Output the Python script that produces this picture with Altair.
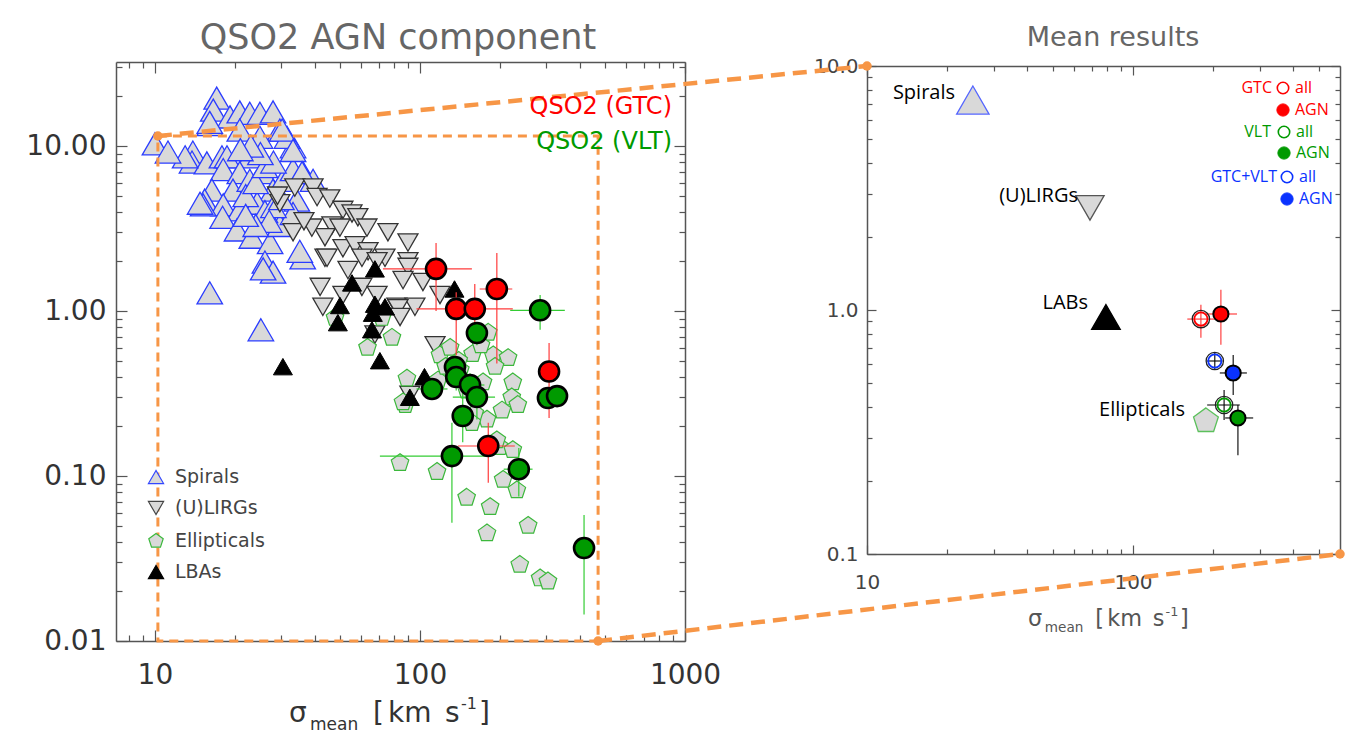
import math
import altair as alt
import pandas as pd

# ---------------- data ----------------
# Left panel: individual objects
SPI_X = [10.0, 17.1, 16.6, 16.1, 13.9, 13.8, 15.7, 17.9, 19.2, 20.9, 22.8, 24.9, 27.9, 29.6, 33.2, 31.5,
         20.9, 18.7, 18.1, 16.4, 15.4, 24.9, 22.8, 20.9, 19.7, 22.8, 25.6, 27.9, 30.4, 33.2, 36.2, 39.5,
         34.3, 18.1, 20.9, 24.3, 15.2, 18.0, 20.4, 23.2, 27.2, 29.6, 33.2, 26.0, 27.9, 25.6, 16.1, 25.1,
         36.1, 22.0, 24.0, 26.0, 28.0, 25.0, 23.0, 21.0, 26.0, 28.0, 30.0, 27.0, 24.0, 22.0, 30.2, 35.2,
         14.8, 13.0, 16.1, 11.2, 33.2, 35.9]
SPI_Y = [10.3, 19.5, 16.5, 13.5, 9.2, 8.0, 7.9, 8.6, 15.0, 16.1, 15.8, 15.8, 16.1, 12.5, 9.9, 11.3,
         12.5, 8.6, 7.2, 5.4, 4.7, 11.3, 8.6, 6.9, 5.4, 6.2, 6.9, 5.4, 6.2, 7.2, 6.9, 6.2,
         4.7, 4.4, 4.1, 4.5, 4.4, 3.7, 3.1, 2.8, 2.6, 3.3, 3.9, 1.98, 1.72, 1.80, 1.29, 0.77,
         2.1, 5.0, 6.0, 7.5, 8.0, 9.0, 10.0, 9.5, 4.0, 4.3, 4.8, 3.5, 3.3, 3.8, 12.5, 2.3,
         4.5, 8.6, 13.9, 9.2, 9.4, 6.9]

LIRG_X = [33.7, 39.5, 40.9, 45.7, 51.2, 55.4, 58.3, 63.1, 75.7, 29.6, 46.5, 49.9, 43.8, 39.1, 33.2,
          51.2, 56.9, 63.7, 60.4, 73.8, 90.1, 90.1, 90.1, 43.8, 53.5, 68.9, 86.3, 102.6, 42.0, 51.2,
          60.4, 68.9, 81.8, 95.7, 119, 43.0, 82.6, 84.1, 114, 91.6, 67.6, 44.6, 36.5, 29.0]
LIRG_Y = [5.6, 5.6, 4.9, 4.8, 4.1, 3.9, 3.7, 3.2, 3.0, 4.5, 3.3, 3.2, 2.8, 3.2, 3.0,
          2.4, 2.5, 2.3, 2.1, 2.1, 2.6, 2.0, 1.85, 2.1, 1.77, 2.0, 1.54, 1.5, 1.4, 1.25,
          1.4, 1.25, 1.06, 1.06, 1.25, 1.06, 1.04, 0.92, 0.62, 0.31, 0.72, 2.1, 3.5, 5.0]

ELL_X = [47.8, 63.4, 78.4, 71.9, 119, 130, 158, 181, 189, 215, 192, 224, 89.3, 88, 222, 204, 179,
         161, 173, 142, 117, 150, 86.3, 84.1, 116, 200, 224, 195, 150, 184, 179, 256, 206, 232,
         238, 284, 304, 234, 157, 140, 125, 170]
ELL_Y = [0.91, 0.60, 0.69, 0.91, 0.54, 0.60, 0.55, 0.74, 0.54, 0.52, 0.46, 0.37, 0.39, 0.27, 0.30,
         0.25, 0.22, 0.24, 0.37, 0.44, 0.38, 0.33, 0.28, 0.12, 0.106, 0.15, 0.144, 0.165, 0.074,
         0.065, 0.045, 0.05, 0.095, 0.082, 0.029, 0.024, 0.023, 0.27, 0.21, 0.50, 0.46, 0.62]

LBA_X = [67.6, 55.4, 135, 49.9, 67.6, 73.8, 66.4, 49.0, 65.9, 70.6, 104, 91.6, 30.4]
LBA_Y = [1.8, 1.48, 1.36, 1.08, 1.1, 1.06, 0.97, 0.85, 0.77, 0.5, 0.4, 0.3, 0.46]

GTC_X = [115, 195, 137, 161, 307, 181]
GTC_Y = [1.80, 1.36, 1.03, 1.03, 0.43, 0.152]
GTC_XLO = [72.5, 168, 97, 145, 292, 139]
GTC_XHI = [157, 223, 155, 224, 322, 228]
GTC_YLO = [1.0, 0.48, 0.54, 0.77, 0.225, 0.091]
GTC_YHI = [2.58, 2.25, 1.30, 1.46, 0.64, 0.21]

VLT_X = [284, 164, 135.5, 137, 154.5, 164, 111, 304, 329, 145, 132, 236, 416]
VLT_Y = [1.01, 0.736, 0.458, 0.398, 0.356, 0.301, 0.337, 0.297, 0.305, 0.231, 0.132, 0.110, 0.0366]
VLT_XLO = [219, 150, 125, 125, 140, 133, 97, 290, 315, 137, 70.6, 207, 400]
VLT_XHI = [352, 179, 150, 150, 175, 192, 127, 318, 345, 153, 184, 266, 430]
VLT_YLO = [0.77, 0.62, 0.38, 0.33, 0.30, 0.22, 0.29, 0.26, 0.27, 0.16, 0.052, 0.075, 0.0145]
VLT_YHI = [1.25, 0.85, 0.55, 0.47, 0.42, 0.35, 0.38, 0.34, 0.35, 0.32, 0.21, 0.148, 0.058]

# Right panel: mean results
MEAN_NAME = ["Spirals", "(U)LIRGs", "LABs", "Ellipticals"]
MEAN_X = [25.0, 68.9, 79.1, 188]
MEAN_Y = [7.25, 2.62, 0.936, 0.351]

QM_NAME = ["GTC all", "GTC AGN", "GTC+VLT all", "GTC+VLT AGN", "VLT all", "VLT AGN"]
QM_X = [180, 214, 203, 238, 220, 248]
QM_Y = [0.918, 0.963, 0.618, 0.552, 0.408, 0.361]
QM_XLO = [160, 188, 190, 212, 190, 222]
QM_XHI = [203, 246, 217, 268, 252, 283]
QM_YLO = [0.77, 0.72, 0.573, 0.448, 0.354, 0.254]
QM_YHI = [1.05, 1.21, 0.666, 0.654, 0.47, 0.408]

# zoom box in the left panel and the corners it connects to in the right panel
ZOOM_X = [10.26, 470]
ZOOM_Y = [0.01, 11.5]
CONN_FROM = [(10.26, 11.5), (470, 0.01)]   # left-panel data coordinates
CONN_TO = [(10, 10), (600, 0.1)]           # right-panel data coordinates

# tick values
L_XMAJ = [10, 100, 1000]
L_XMIN = [8, 9] + [k * 10 for k in range(2, 10)] + [k * 100 for k in range(2, 10)]
L_YMAJ = [0.01, 0.1, 1, 10]
L_YMIN = [k / 100 for k in range(2, 10)] + [k / 10 for k in range(2, 10)] + list(range(2, 10)) + [20, 30]
R_XMAJ = [10, 100]
R_XMIN = [k * 10 for k in range(2, 10)] + [200, 300, 400, 500]
R_YMAJ = [0.1, 1, 10]
R_YMIN = [k / 10 for k in range(2, 10)] + list(range(2, 10))

# ---------------- layout ----------------
W, H = 1367, 744
PANEL = {
    "L": ([7.13, 1000], [116, 685], [0.01, 32.3], [641, 62]),
    "R": ([10, 600], [867, 1340], [0.1, 10], [554, 66]),
}
ORANGE = "#F79646"
GRAY_FILL = "#d9d9d9"
RED = "#ff0000"
GREEN = "#009a00"
BLUE = "#0a32ff"
IDL = "DejaVu Sans"
SANS = "Open Sans"
PENTAGON = "M0,-1L0.951,-0.309L0.588,0.809L-0.588,0.809L-0.951,-0.309Z"
ONE = pd.DataFrame({"x": [10.0], "y": [1.0]})


def X(p, f, axis=None):
    d, r = PANEL[p][0], PANEL[p][1]
    return alt.X(f, type="quantitative", axis=axis,
                 scale=alt.Scale(type="log", domain=d, range=r, nice=False))


def Y(p, f, axis=None):
    d, r = PANEL[p][2], PANEL[p][3]
    return alt.Y(f, type="quantitative", axis=axis,
                 scale=alt.Scale(type="log", domain=d, range=r, nice=False))


def ax(orient, values, tick, offset, domain=True, labels=False, fmt=None, size=20, pad=8, color="#333"):
    kw = dict(orient=orient, values=values, offset=offset, grid=False, title=None,
              domain=domain, domainColor="#555", domainWidth=1.5, labels=labels)
    if tick > 0:
        kw.update(ticks=True, tickSize=tick, tickColor="#555", tickWidth=1.2)
    else:
        kw.update(ticks=False, tickSize=0)
    if labels:
        kw.update(format=fmt, labelFontSize=size, labelColor=color, labelFont=IDL,
                  labelPadding=pad, labelFlush=False, labelOverlap=False, labelBound=False)
    return alt.Axis(**kw)


def axis_layer(p, xa, ya):
    return alt.Chart(ONE).mark_point(opacity=0, size=1).encode(x=X(p, "x", xa), y=Y(p, "y", ya))


def to_px(v, d, r):
    t = (math.log10(v) - math.log10(d[0])) / (math.log10(d[1]) - math.log10(d[0]))
    return r[0] + t * (r[1] - r[0])


def from_px(px, d, r):
    t = (px - r[0]) / (r[1] - r[0])
    return 10 ** (math.log10(d[0]) + t * (math.log10(d[1]) - math.log10(d[0])))


def text(t, x, y, size, color, font=IDL, align="left", baseline="middle", weight="normal"):
    return alt.Chart(ONE).mark_text(text=t, fontSize=size, color=color, font=font, align=align,
                                    baseline=baseline, fontWeight=weight).encode(
        x=alt.value(x), y=alt.value(y))


def sym(x, y, shape, size, fill, stroke, sw=1.0, filled=True):
    kw = dict(shape=shape, size=size, strokeWidth=sw, opacity=1)
    if filled:
        kw.update(filled=True, fill=fill, stroke=stroke, fillOpacity=1)
    else:
        kw.update(filled=False, stroke=stroke, fillOpacity=0)
    return alt.Chart(ONE).mark_point(**kw).encode(x=alt.value(x), y=alt.value(y))


def xtitle(x0, base, k, color):
    parts = [("σ", 0, 0, 28), ("mean", 21, 8, 17), ("[", 84, 0, 28), ("km", 99, 0, 28),
             ("s", 156, 0, 28), ("-1", 172, -13, 16), ("]", 190, 0, 28)]
    return [text(t, x0 + dx * k, base + dy * k, s * k, color, baseline="alphabetic")
            for t, dx, dy, s in parts]


layers = []

# ---------- axes (ticks point inwards, frame on all four sides) ----------
for p, xmaj, xmin, ymaj, ymin, tmaj, tmin in [
        ("L", L_XMAJ, L_XMIN, L_YMAJ, L_YMIN, 11, 6),
        ("R", R_XMAJ, R_XMIN, R_YMAJ, R_YMIN, 9, 5)]:
    xr, yr = PANEL[p][1], PANEL[p][3]
    bottom, top, left, right = yr[0], yr[1], xr[0], xr[1]
    layers.append(axis_layer(p, ax("top", xmaj, tmaj, -bottom), ax("right", ymaj, tmaj, left - W)))
    layers.append(axis_layer(p, ax("top", xmin, tmin, -bottom, domain=False),
                             ax("right", ymin, tmin, left - W, domain=False)))
    layers.append(axis_layer(p, ax("bottom", xmaj, tmaj, top - H), ax("left", ymaj, tmaj, -right)))
    layers.append(axis_layer(p, ax("bottom", xmin, tmin, top - H, domain=False),
                             ax("left", ymin, tmin, -right, domain=False)))

layers.append(axis_layer("L",
                         ax("bottom", L_XMAJ, 0, 641 - H, domain=False, labels=True, fmt="d", size=28, pad=20),
                         ax("left", L_YMAJ, 0, -116, domain=False, labels=True, fmt=".2f", size=28, pad=10)))
layers.append(axis_layer("R",
                         ax("bottom", R_XMAJ, 0, 554 - H, domain=False, labels=True, fmt="d", size=20, pad=18,
                            color="#444"),
                         ax("left", R_YMAJ, 0, -867, domain=False, labels=True, fmt=".1f", size=20, pad=9,
                            color="#444")))

# ---------- left panel data ----------
spi = pd.DataFrame({"x": SPI_X, "y": SPI_Y})
lirg = pd.DataFrame({"x": LIRG_X, "y": LIRG_Y})
ell = pd.DataFrame({"x": ELL_X, "y": ELL_Y})
lba = pd.DataFrame({"x": LBA_X, "y": LBA_Y})
gtc = pd.DataFrame({"x": GTC_X, "y": GTC_Y, "xlo": GTC_XLO, "xhi": GTC_XHI, "ylo": GTC_YLO, "yhi": GTC_YHI})
vlt = pd.DataFrame({"x": VLT_X, "y": VLT_Y, "xlo": VLT_XLO, "xhi": VLT_XHI, "ylo": VLT_YLO, "yhi": VLT_YHI})

layers.append(alt.Chart(spi).mark_point(shape="triangle-up", size=650, filled=True, fill=GRAY_FILL,
                                        stroke="#2a3cff", strokeWidth=1.3, opacity=1, fillOpacity=1)
              .encode(x=X("L", "x"), y=Y("L", "y")))
layers.append(alt.Chart(lirg).mark_point(shape="triangle-down", size=400, filled=True, fill=GRAY_FILL,
                                         stroke="#333", strokeWidth=1.3, opacity=1, fillOpacity=1)
              .encode(x=X("L", "x"), y=Y("L", "y")))
layers.append(alt.Chart(ell).mark_point(shape=PENTAGON, size=340, filled=True, fill=GRAY_FILL,
                                        stroke="#3cb83c", strokeWidth=1.2, opacity=1, fillOpacity=1)
              .encode(x=X("L", "x"), y=Y("L", "y")))
layers.append(alt.Chart(lba).mark_point(shape="triangle-up", size=360, filled=True, fill="black",
                                        stroke="black", strokeWidth=1, opacity=1)
              .encode(x=X("L", "x"), y=Y("L", "y")))

for df, col, ecol in [(vlt, GREEN, "#33cc33"), (gtc, RED, "#ff3b3b")]:
    layers.append(alt.Chart(df).mark_rule(color=ecol, strokeWidth=1.2)
                  .encode(x=X("L", "xlo"), x2="xhi", y=Y("L", "y")))
    layers.append(alt.Chart(df).mark_rule(color=ecol, strokeWidth=1.2)
                  .encode(x=X("L", "x"), y=Y("L", "ylo"), y2="yhi"))
for df, col in [(gtc, RED), (vlt, GREEN)]:
    layers.append(alt.Chart(df).mark_point(shape="circle", size=400, filled=True, fill=col, stroke="black",
                                           strokeWidth=2.6, opacity=1, fillOpacity=1)
                  .encode(x=X("L", "x"), y=Y("L", "y")))

# ---------- right panel data ----------
mean = pd.DataFrame({"x": MEAN_X, "y": MEAN_Y, "n": MEAN_NAME})
styles = {
    "Spirals": ("triangle-up", 1050, GRAY_FILL, "#5566ff"),
    "(U)LIRGs": ("triangle-down", 800, GRAY_FILL, "#555"),
    "LABs": ("triangle-up", 820, "black", "black"),
    "Ellipticals": (PENTAGON, 680, GRAY_FILL, "#5cc05c"),
}
for name, (shape, size, fill, stroke) in styles.items():
    layers.append(alt.Chart(mean[mean.n == name]).mark_point(
        shape=shape, size=size, filled=True, fill=fill, stroke=stroke, strokeWidth=1.3,
        opacity=1, fillOpacity=1).encode(x=X("R", "x"), y=Y("R", "y")))

qm = pd.DataFrame({"x": QM_X, "y": QM_Y, "xlo": QM_XLO, "xhi": QM_XHI, "ylo": QM_YLO, "yhi": QM_YHI,
                   "n": QM_NAME})
qm["ec"] = ["#ff3030" if n.startswith("GTC ") else "black" for n in QM_NAME]
qm["c"] = [RED if n.startswith("GTC ") else (GREEN if n.startswith("VLT") else BLUE) for n in QM_NAME]
qm["all"] = [n.endswith("all") for n in QM_NAME]
layers.append(alt.Chart(qm).mark_rule(strokeWidth=1.1)
              .encode(x=X("R", "xlo"), x2="xhi", y=Y("R", "y"), color=alt.Color("ec:N", scale=None)))
layers.append(alt.Chart(qm).mark_rule(strokeWidth=1.1)
              .encode(x=X("R", "x"), y=Y("R", "ylo"), y2="yhi", color=alt.Color("ec:N", scale=None)))
qa = qm[qm["all"]]
qg = qm[~qm["all"]]
layers.append(alt.Chart(qa).mark_point(shape="circle", size=300, filled=False, stroke="#222",
                                       strokeWidth=1.3, opacity=1)
              .encode(x=X("R", "x"), y=Y("R", "y")))
layers.append(alt.Chart(qa).mark_point(shape="circle", size=175, filled=False, strokeWidth=1.8, opacity=1)
              .encode(x=X("R", "x"), y=Y("R", "y"), stroke=alt.Stroke("c:N", scale=None)))
layers.append(alt.Chart(qg).mark_point(shape="circle", size=230, filled=True, stroke="black",
                                       strokeWidth=2, opacity=1, fillOpacity=1)
              .encode(x=X("R", "x"), y=Y("R", "y"), fill=alt.Fill("c:N", scale=None)))

# ---------- zoom box and connectors ----------
box = pd.DataFrame({"x": [ZOOM_X[0]], "x2": [ZOOM_X[1]], "y": [ZOOM_Y[0]], "y2": [ZOOM_Y[1]]})
layers.append(alt.Chart(box).mark_rect(fillOpacity=0, stroke=ORANGE, strokeWidth=3,
                                       strokeDash=[9, 6])
              .encode(x=X("L", "x"), x2="x2", y=Y("L", "y"), y2="y2"))

dL, rL = PANEL["L"], PANEL["R"]
conn_rows = []
for (fx, fy), (tx, ty) in zip(CONN_FROM, CONN_TO):
    # express the right-panel corner in left-panel data coordinates
    tpx = to_px(tx, rL[0], rL[1])
    tpy = to_px(ty, rL[2], rL[3])
    conn_rows.append({"x": fx, "y": fy, "x2": from_px(tpx, dL[0], dL[1]), "y2": from_px(tpy, dL[2], dL[3])})
conn = pd.DataFrame(conn_rows)
layers.append(alt.Chart(conn).mark_rule(color=ORANGE, strokeWidth=4.5, strokeDash=[14, 8])
              .encode(x=X("L", "x"), x2="x2", y=Y("L", "y"), y2="y2"))
dots = pd.DataFrame({"x": list(conn.x) + list(conn.x2), "y": list(conn.y) + list(conn.y2)})
layers.append(alt.Chart(dots).mark_circle(color=ORANGE, size=90, opacity=1)
              .encode(x=X("L", "x"), y=Y("L", "y")))

# ---------- texts ----------
layers.append(text("QSO2 AGN component", 398, 38, 35, "#666", align="center"))
layers.append(text("Mean results", 1113, 38, 27, "#666", align="center"))
layers += xtitle(289, 722, 1.0, "#333")
layers += xtitle(1028, 626, 0.8, "#555")

layers.append(text("QSO2 (GTC)", 672, 107, 24, RED, align="right"))
layers.append(text("QSO2 (VLT)", 672, 142, 24, GREEN, align="right"))

leg = [("Spirals", 477, "triangle-up", GRAY_FILL, "#3347ff"),
       ("(U)LIRGs", 508, "triangle-down", GRAY_FILL, "#444"),
       ("Ellipticals", 541, PENTAGON, GRAY_FILL, "#3cb83c"),
       ("LBAs", 572, "triangle-up", "black", "black")]
for t, yy, shape, fill, stroke in leg:
    layers.append(sym(156, yy, shape, 230, fill, stroke, 1.2))
    layers.append(text(t, 175, yy, 19, "#444"))

for name, x, y in zip(MEAN_NAME, [955, 1078, 1088, 1185], [93, 196, 303, 410]):
    layers.append(text(name, x, y, 20, "black", font=SANS, align="right"))

qleg = [("GTC", RED, 1272, 1283, 88, 110), ("VLT", GREEN, 1271, 1284, 132, 153),
        ("GTC+VLT", BLUE, 1277, 1287, 177, 199)]
for lab, col, tx, cx, ya, yg in qleg:
    layers.append(text(lab, tx, ya, 16, col, font=SANS, align="right"))
    layers.append(sym(cx, ya, "circle", 130, None, col, 1.6, filled=False))
    layers.append(text("all", cx + 12, ya, 16, col, font=SANS))
    layers.append(sym(cx, yg, "circle", 150, col, col, 1, filled=True))
    layers.append(text("AGN", cx + 12, yg, 16, col, font=SANS))

chart = (alt.layer(*layers)
         .resolve_scale(x="independent", y="independent")
         .properties(width=W, height=H, padding=0, autosize=alt.AutoSizeParams(type="none"),
                     background="white")
         .configure_view(stroke=None))

chart.save("out.html", embed_options={"renderer": "svg", "actions": False})
